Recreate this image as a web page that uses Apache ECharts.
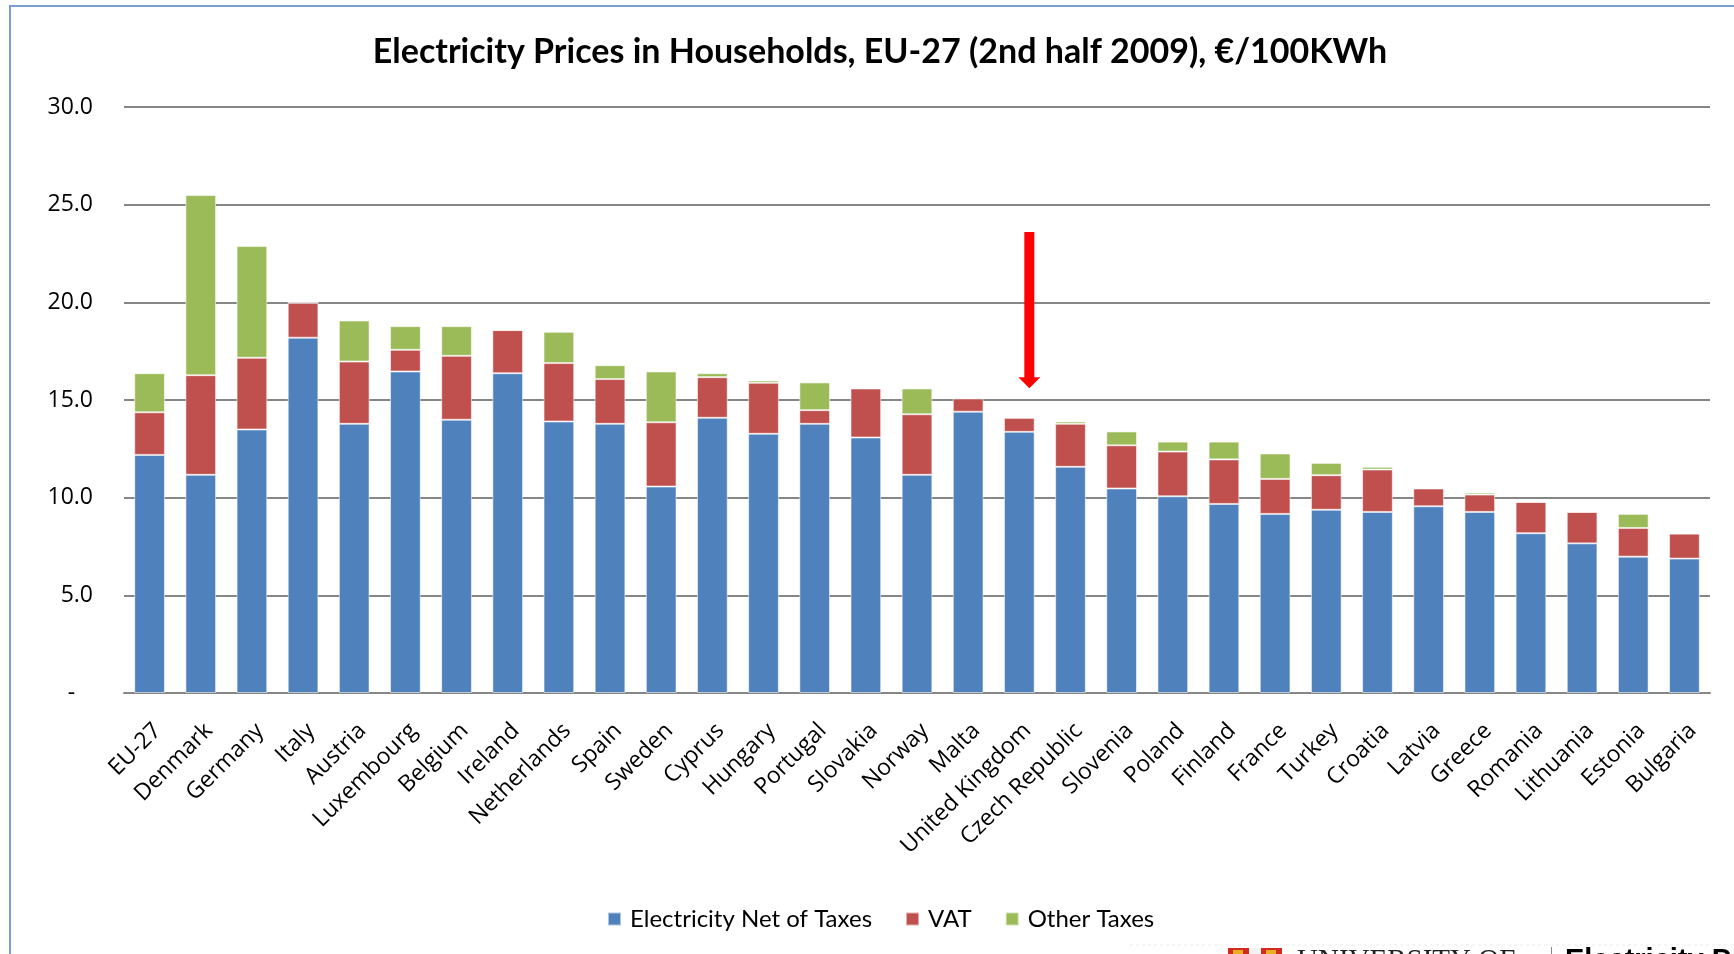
<!DOCTYPE html>
<html>
<head>
<meta charset="utf-8">
<script src="https://cdn.jsdelivr.net/npm/echarts@6/dist/echarts.min.js"></script>
<style>
html,body{margin:0;padding:0;background:#fff;}
#chart{width:1734px;height:954px;}
</style>
</head>
<body>
<div id="chart"></div>
<script>
const categories = ['EU-27','Denmark','Germany','Italy','Austria','Luxembourg','Belgium','Ireland','Netherlands','Spain','Sweden','Cyprus','Hungary','Portugal','Slovakia','Norway','Malta','United Kingdom','Czech Republic','Slovenia','Poland','Finland','France','Turkey','Croatia','Latvia','Greece','Romania','Lithuania','Estonia','Bulgaria'];
const netOfTaxes = [12.19,11.17,13.49,18.19,13.78,16.46,13.99,16.37,13.90,13.78,10.57,14.09,13.27,13.78,13.08,11.17,14.40,13.37,11.58,10.47,10.07,9.68,9.17,9.38,9.27,9.56,9.27,8.18,7.66,6.98,6.88];
const vat = [2.18,5.10,3.67,1.79,3.19,1.11,3.27,2.21,2.99,2.29,3.29,2.08,2.61,0.70,2.51,3.10,0.68,0.72,2.20,2.21,2.29,2.28,1.79,1.77,2.17,0.91,0.89,1.60,1.61,1.47,1.28];
const otherTaxes = [2.00,9.22,5.72,0,2.10,1.21,1.52,0,1.60,0.71,2.60,0.20,0.12,1.42,0,1.32,0,0,0.12,0.71,0.51,0.91,1.30,0.63,0.14,0,0.10,0,0,0.72,0];
const seriesNames = ['Electricity Net of Taxes','VAT','Other Taxes'];
const yTickLabels = ['-   ','5.0','10.0','15.0','20.0','25.0','30.0'];
const arrowAnnotation = {category:'United Kingdom', from:23.6, to:15.6};

const colors = ['#4F81BD','#C0504D','#9BBB59'];
const chart = echarts.init(document.getElementById('chart'));
const barStyle = (c) => ({color:c, borderColor:'rgba(255,255,255,0.55)', borderWidth:1});
const option = {
  animation:false,
  title:{
    text:'Electricity Prices in Households, EU-27 (2nd half 2009), \u20AC/100KWh',
    left:875, top:30, textAlign:'center',
    textStyle:{fontFamily:'Lato', fontWeight:'bold', fontSize:34, color:'#000'}
  },
  legend:{
    data:seriesNames, bottom:18, left:602,
    itemWidth:13, itemHeight:13, itemGap:33, icon:'rect',
    textStyle:{fontFamily:'Lato', fontSize:24, color:'#000', padding:[0,0,0,4]}
  },
  grid:{left:124, right:24, top:107, bottom:261, containLabel:false},
  xAxis:{
    type:'category', data:categories,
    axisLine:{lineStyle:{color:'#868686', width:2}},
    axisTick:{show:false},
    axisLabel:{rotate:45, interval:0, margin:26, verticalAlign:'top', fontFamily:'Open Sans', fontSize:23, color:'#000'}
  },
  yAxis:{
    type:'value', min:0, max:30, interval:5,
    axisLine:{show:false}, axisTick:{show:false},
    splitLine:{lineStyle:{color:'#868686', width:2}},
    axisLabel:{margin:31, fontFamily:'Open Sans', fontSize:23, color:'#000',
      formatter:(v)=>yTickLabels[Math.round(v/5)]}
  },
  series:[
    {name:seriesNames[0], type:'bar', stack:'t', data:netOfTaxes, barWidth:'60%', itemStyle:barStyle(colors[0])},
    {name:seriesNames[1], type:'bar', stack:'t', data:vat, barWidth:'60%', itemStyle:barStyle(colors[1])},
    {name:seriesNames[2], type:'bar', stack:'t', data:otherTaxes, barWidth:'60%', itemStyle:barStyle(colors[2])}
  ]
};
chart.setOption(option);

// annotation arrow placed through the chart's own scales
const pTop = chart.convertToPixel({gridIndex:0}, [arrowAnnotation.category, arrowAnnotation.from]);
const pTip = chart.convertToPixel({gridIndex:0}, [arrowAnnotation.category, arrowAnnotation.to]);
const ax = pTop[0] + 10, shaftW = 10, headW = 22, headH = 11;
chart.setOption({
  graphic:[
    {type:'rect', shape:{x:10, y:6, width:1760, height:1000}, style:{fill:'none', stroke:'#7A9CCF', lineWidth:2}, silent:true},
    {type:'polygon', shape:{points:[
      [ax-shaftW/2, pTop[1]], [ax+shaftW/2, pTop[1]], [ax+shaftW/2, pTip[1]-headH],
      [ax+headW/2, pTip[1]-headH], [ax, pTip[1]], [ax-headW/2, pTip[1]-headH], [ax-shaftW/2, pTip[1]-headH]
    ]}, style:{fill:'#FF0000'}, silent:true},
    {type:'line', shape:{x1:1130, y1:945, x2:1734, y2:945}, style:{stroke:'#ececec', lineWidth:1, lineDash:[3,3]}, silent:true},
    {type:'rect', shape:{x:1228, y:948, width:54, height:20}, style:{fill:'#D42A1E'}, silent:true},
    {type:'rect', shape:{x:1249, y:948, width:12, height:20}, style:{fill:'#F2F2F2'}, silent:true},
    {type:'rect', shape:{x:1233, y:950, width:10, height:5}, style:{fill:'#E8B020'}, silent:true},
    {type:'rect', shape:{x:1266, y:950, width:10, height:5}, style:{fill:'#E8B020'}, silent:true},
    {type:'text', x:1297, y:947, style:{text:'UNIVERSITY OF', fontFamily:'Liberation Serif', fontSize:29, fill:'#222', textVerticalAlign:'top'}, silent:true},
    {type:'rect', shape:{x:1551, y:947, width:1, height:10}, style:{fill:'#888'}, silent:true},
    {type:'text', x:1565, y:946, style:{text:'Electricity Policy Research Group', fontFamily:'Liberation Sans', fontWeight:'bold', fontSize:29, fill:'#000', textVerticalAlign:'top'}, silent:true}
  ]
});
</script>
</body>
</html>
